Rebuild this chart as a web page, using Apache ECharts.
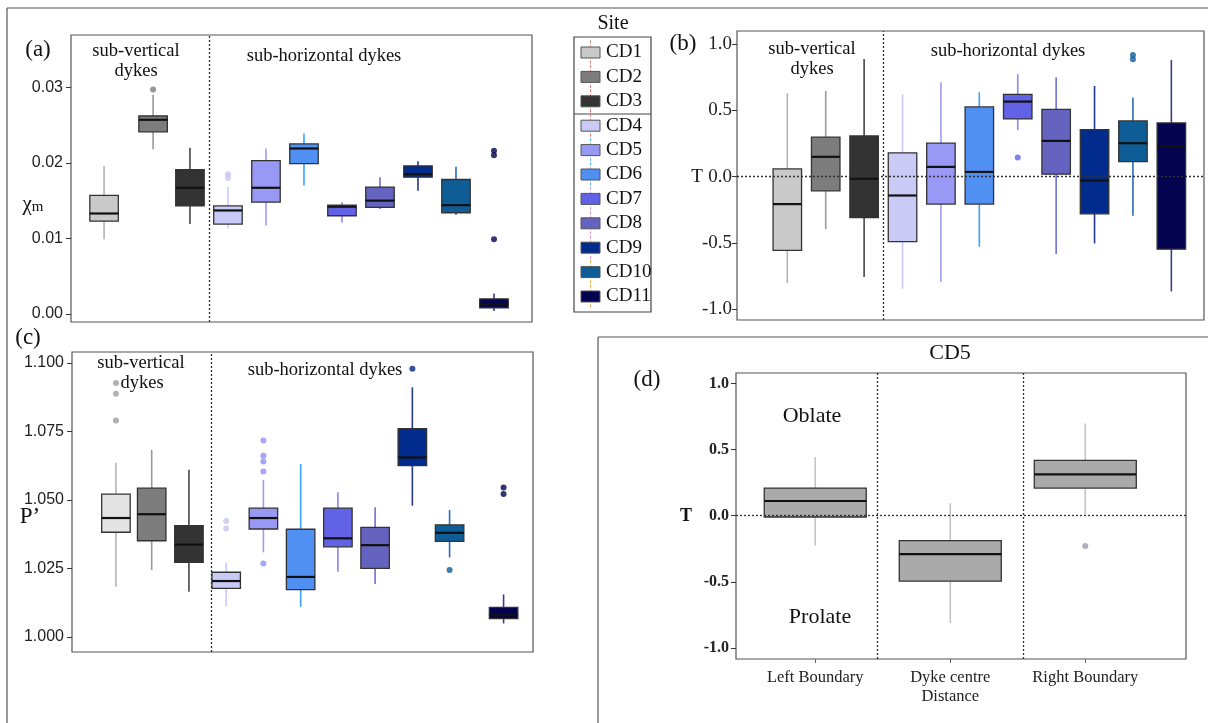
<!DOCTYPE html>
<html><head><meta charset="utf-8">
<script src="https://cdn.jsdelivr.net/npm/echarts@6/dist/echarts.min.js"></script>
<style>html,body{margin:0;padding:0;background:#fff}#c{width:1208px;height:723px}</style>
</head><body><div id="c"></div>
<script>
// ---------------- DATA ----------------
const sites = ['CD1','CD2','CD3','CD4','CD5','CD6','CD7','CD8','CD9','CD10','CD11'];
// each box: [lower whisker, Q1, median, Q3, upper whisker]
const chiBoxes = [
  [0.0099,0.0123,0.0133,0.0157,0.0196],
  [0.0218,0.0241,0.0257,0.0262,0.0290],
  [0.0119,0.0143,0.0167,0.0191,0.0220],
  [0.0113,0.0119,0.0137,0.0143,0.0168],
  [0.0117,0.0148,0.0167,0.0203,0.0219],
  [0.0170,0.0199,0.0219,0.0225,0.0239],
  [0.0121,0.0130,0.0142,0.0144,0.0148],
  [0.0139,0.0141,0.0150,0.0168,0.0181],
  [0.0163,0.0181,0.0185,0.0196,0.0202],
  [0.0131,0.0134,0.0144,0.0178,0.0195],
  [0.0004,0.0008,0.0013,0.0020,0.0027]
];
// outliers: [site index, value]
const chiOutliers = [[1,0.0297],[3,0.0185],[3,0.0180],[10,0.0216],[10,0.0210],[10,0.0099]];
const tBoxes = [
  [-0.804,-0.558,-0.208,0.058,0.629],
  [-0.397,-0.108,0.149,0.297,0.646],
  [-0.759,-0.309,-0.017,0.307,0.888],
  [-0.847,-0.492,-0.143,0.179,0.621],
  [-0.797,-0.208,0.073,0.252,0.712],
  [-0.530,-0.208,0.035,0.526,0.636],
  [0.350,0.435,0.566,0.621,0.772],
  [-0.585,0.018,0.269,0.508,0.750],
  [-0.505,-0.281,-0.030,0.354,0.684],
  [-0.296,0.113,0.252,0.420,0.596],
  [-0.867,-0.548,0.226,0.405,0.880]
];
const tOutliers = [[6,0.143],[9,0.918],[9,0.885]];
const pBoxes = [
  [1.0183,1.0382,1.0434,1.0521,1.0636],
  [1.0244,1.0351,1.0448,1.0543,1.0683],
  [1.0165,1.0272,1.0337,1.0406,1.0610],
  [1.0113,1.0177,1.0204,1.0236,1.0272],
  [1.0309,1.0394,1.0434,1.0470,1.0573],
  [1.0110,1.0173,1.0219,1.0393,1.0631],
  [1.0238,1.0329,1.0360,1.0470,1.0528],
  [1.0193,1.0250,1.0335,1.0400,1.0473],
  [1.0479,1.0625,1.0655,1.0760,1.0911],
  [1.0290,1.0349,1.0380,1.0409,1.0463],
  [1.0049,1.0067,1.0079,1.0108,1.0155]
];
const pOutliers = [[0,1.0927],[0,1.0888],[0,1.0790],[3,1.0423],[3,1.0396],[4,1.0717],[4,1.0661],[4,1.0640],[4,1.0604],[4,1.0268],[8,1.0979],[9,1.0244],[10,1.0545],[10,1.0522]];
const cd5Groups = ['Left Boundary','Dyke centre\nDistance','Right Boundary'];
const cd5Boxes = [
  [-0.226,-0.010,0.111,0.209,0.443],
  [-0.812,-0.495,-0.291,-0.189,0.094],
  [0.010,0.209,0.312,0.418,0.697]
];
const cd5Outliers = [[2,-0.229]];
const chiTicks = [0,0.01,0.02,0.03];
const tTicks = [-1,-0.5,0,0.5,1];
const pTicks = [1.000,1.025,1.050,1.075,1.100];

// ---------------- LAYOUT / STYLE ----------------
const slotA = [0.74,2.03,3,4,5,6,7,8,9,10,11];
const slotB = [1,2,3,4,5,6,7,8,9,10,11];
const slotC = [1.04,2,3,4,5,6,7,8,9,10,11.45];
const slotD = [1,2,3];
const fillCol = ['#c9c9c9','#7d7d7d','#333333','#cacaf7','#9898f5','#4f90f2','#6262e6','#6464c0','#012b8c','#0e5d97','#03034f'];
const fillColC = ['#e4e4e4'].concat(fillCol.slice(1));
const whiskCol = ['#b3b3b3','#9a9a9a','#474747','#c9c9fb','#9c9cff','#3aa0ff','#8484ff','#6f6fd6','#25398f','#2a6bbf','#3c3c8c'];
const outCol = ['#a39c9c','#7d7d7d','#333333','#c6c6f5','#9090f5','#4f90f2','#6060f0','#6464c0','#012b8c','#0e5d97','#03034f'];
const legLineCol = ['#e08080','#e07878','#e07070','#e07a7a','#60b8f0','#50b0f0','#c0a0f0','#e890c8','#e890c8','#f0b050','#f0b050'];
const SERIF = '"Liberation Serif", "Times New Roman", serif';
const SANS = '"Liberation Sans", Arial, sans-serif';

const chart = echarts.init(document.getElementById('c'), null, {renderer:'canvas'});

function boxSeries(xi, boxes, slots, fills, whisk, pxW, border) {
  return {
    type:'custom', xAxisIndex:xi, yAxisIndex:xi, z:3, silent:true,
    data: boxes.map((b,i)=>[slots[i]].concat(b).concat([i])),
    encode:{x:0, y:[1,2,3,4,5]},
    renderItem:function(params, api){
      const x = api.value(0);
      const lo = api.coord([x, api.value(1)]);
      const q1 = api.coord([x, api.value(2)]);
      const md = api.coord([x, api.value(3)]);
      const q3 = api.coord([x, api.value(4)]);
      const hi = api.coord([x, api.value(5)]);
      const i = api.value(6);
      const cx = lo[0], w = pxW;
      return {type:'group', children:[
        {type:'line', shape:{x1:cx,y1:hi[1],x2:cx,y2:q3[1]}, style:{stroke:whisk[i], lineWidth:1.6}},
        {type:'line', shape:{x1:cx,y1:q1[1],x2:cx,y2:lo[1]}, style:{stroke:whisk[i], lineWidth:1.6}},
        {type:'rect', shape:{x:cx-w/2, y:q3[1], width:w, height:q1[1]-q3[1]}, style:{fill:fills[i], stroke:border, lineWidth:1.3}},
        {type:'line', shape:{x1:cx-w/2,y1:md[1],x2:cx+w/2,y2:md[1]}, style:{stroke:'#111', lineWidth:2.2}}
      ]};
    }
  };
}
function outSeries(xi, outs, slots, cols) {
  return {
    type:'scatter', xAxisIndex:xi, yAxisIndex:xi, z:4, silent:true, symbolSize:6,
    data: outs.map(o=>[slots[o[0]], o[1], o[0]]),
    itemStyle:{color:function(p){return cols[p.data[2]];}}
  };
}
function refLines(xi, lines) {
  return {
    type:'scatter', xAxisIndex:xi, yAxisIndex:xi, z:1, data:[], silent:true,
    markLine:{symbol:'none', silent:true, animation:false, label:{show:false},
      lineStyle:{type:[2,2], color:'#333', width:1.3}, data:lines}
  };
}
function yAx(gi, min, max, ticks, digits, lab) {
  return {type:'value', gridIndex:gi, min:min, max:max,
    axisLine:{show:false, onZero:false}, splitLine:{show:false},
    axisTick:{show:true, inside:false, length:5, customValues:ticks, lineStyle:{color:'#333'}},
    axisLabel:Object.assign({customValues:ticks, formatter:function(v){return (+v).toFixed(digits);}, margin:8, color:'#222'}, lab)};
}
function xHidden(gi, min, max) {
  return {type:'value', gridIndex:gi, min:min, max:max, show:false, axisLine:{onZero:false}, splitLine:{show:false}};
}
const gridBase = {show:true, borderColor:'#555', borderWidth:1.2, backgroundColor:'#fff', outerBoundsMode:'none', containLabel:false};

// graphic: texts, frames, legend
const G = [];
function txt(x,y,t,size,opts){ G.push({type:'text', silent:true, z:10, style:Object.assign({x:x, y:y, text:t, fill:'#111',
  fontSize:size, fontFamily:SERIF, textAlign:'center', textVerticalAlign:'middle', align:'center', verticalAlign:'middle'}, opts||{})}); }
function ln(x1,y1,x2,y2,col,w,dash){ G.push({type:'line', silent:true, z:10, shape:{x1:x1,y1:y1,x2:x2,y2:y2}, style:{stroke:col, lineWidth:w, lineDash:dash||null}}); }
// outer frames
ln(7,8,1208,8,'#555',1.2); ln(7,8,7,723,'#555',1.2);
ln(598,337,1208,337,'#555',1.2); ln(598,337,598,723,'#555',1.2);
// panel (a)
txt(38,50,'(a)',23); txt(136,51,'sub-vertical',18.5); txt(136,71,'dykes',18.5); txt(324,56,'sub-horizontal dykes',18.5);
G.push({type:'text', silent:true, z:10, style:{x:33, y:204, text:'{a|χ}{b|m}', textAlign:'center', textVerticalAlign:'middle', align:'center', verticalAlign:'middle',
  rich:{a:{fontSize:21, fontFamily:SERIF, fill:'#111', color:'#111'}, b:{fontSize:15, fontFamily:SERIF, fill:'#111', color:'#111', padding:[6,0,0,0]}}}});
// panel (b)
txt(683,44,'(b)',23); txt(812,49,'sub-vertical',18.5); txt(812,69,'dykes',18.5); txt(1008,51,'sub-horizontal dykes',18.5);
txt(697,177,'T',19);
// panel (c)
txt(28,338,'(c)',23); txt(141,363,'sub-vertical',18.5); txt(142,383,'dykes',18.5); txt(325,370,'sub-horizontal dykes',18.5);
txt(30,517,'P’',23);
// panel (d)
txt(647,380,'(d)',23); txt(950,353,'CD5',22); txt(812,416,'Oblate',22); txt(820,617,'Prolate',22);
txt(686,516,'T',18,{fontWeight:'bold'});
// legend
txt(613,24,'Site',20);
G.push({type:'rect', silent:true, z:9, shape:{x:574,y:37,width:77,height:275}, style:{fill:'#fff', stroke:'#444', lineWidth:1.2}});
ln(574,114,651,114,'#444',1.2);
sites.forEach(function(s,i){
  const y = 52.5 + i*24.4;
  ln(590.5,y-12,590.5,y+12,legLineCol[i],1,[3,2]);
  G.push({type:'rect', silent:true, z:11, shape:{x:581,y:y-5.5,width:19,height:11}, style:{fill:fillCol[i], stroke:'#555', lineWidth:1}});
  ln(581,y,600,y,'#222',1);
  txt(606,y,s,19,{textAlign:'left', align:'left'});
});

const option = {
  animation:false,
  backgroundColor:'#fff',
  grid:[
    Object.assign({left:71, top:35, width:461, height:287}, gridBase),
    Object.assign({left:737, top:31, width:467, height:289}, gridBase),
    Object.assign({left:72, top:352, width:461, height:300}, gridBase),
    Object.assign({left:736, top:373, width:450, height:286}, gridBase)
  ],
  xAxis:[
    xHidden(0,-0.13,12.0),
    xHidden(1,-0.31,11.85),
    xHidden(2,-0.14,12.24),
    {type:'value', gridIndex:3, min:0.413, max:3.746, splitLine:{show:false},
      axisLine:{show:false, onZero:false},
      axisTick:{show:true, length:4, customValues:[1,2,3], lineStyle:{color:'#666'}},
      axisLabel:{customValues:[1,2,3], formatter:function(v){return cd5Groups[Math.round(v)-1];},
        fontFamily:SERIF, fontSize:16.5, color:'#222', margin:9, lineHeight:19}}
  ],
  yAxis:[
    yAx(0,-0.00106,0.03692,chiTicks,2,{fontFamily:SANS, fontSize:16}),
    yAx(1,-1.083,1.099,tTicks,1,{fontFamily:SERIF, fontSize:19, margin:5}),
    yAx(2,0.9945,1.104,pTicks,3,{fontFamily:SANS, fontSize:16}),
    yAx(3,-1.084,1.079,tTicks,1,{fontFamily:SERIF, fontSize:16, fontWeight:'bold', margin:7})
  ],
  series:[
    refLines(0,[{xAxis:3.5}]),
    refLines(1,[{xAxis:3.5},{yAxis:0}]),
    refLines(2,[{xAxis:3.59}]),
    refLines(3,[{xAxis:1.464},{xAxis:2.538},{yAxis:0}]),
    boxSeries(0,chiBoxes,slotA,fillCol,whiskCol,28.5,'#333'),
    boxSeries(1,tBoxes,slotB,fillCol,whiskCol,28.5,'#333'),
    boxSeries(2,pBoxes,slotC,fillColC,whiskCol,28.5,'#333'),
    boxSeries(3,cd5Boxes,slotD,['#aaaaaa','#aaaaaa','#aaaaaa'],['#c4c4c4','#c4c4c4','#c4c4c4'],102,'#333'),
    outSeries(0,chiOutliers,slotA,outCol),
    outSeries(1,tOutliers,slotB,outCol),
    outSeries(2,pOutliers,slotC,outCol),
    outSeries(3,cd5Outliers,slotD,['#9a9ab0','#9a9ab0','#9a9ab0'])
  ],
  graphic:G
};
chart.setOption(option);
</script>
</body></html>
